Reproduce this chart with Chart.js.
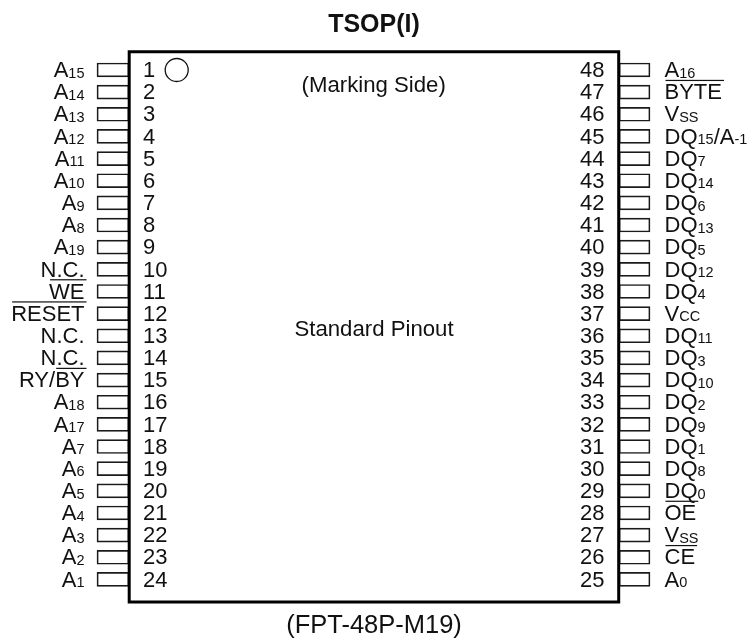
<!DOCTYPE html>
<html>
<head>
<meta charset="utf-8">
<title>TSOP(I)</title>
<script src="https://cdn.jsdelivr.net/npm/chart.js@4"></script>
<style>
  html, body { margin: 0; padding: 0; background: #fff; }
  canvas { display: block; }
</style>
</head>
<body>
<canvas id="pinout" width="751" height="641"></canvas>
<script>
// pin names: _{x} is a subscript, ~{x} an overbar
const leftPinNames = ['A_{15}', 'A_{14}', 'A_{13}', 'A_{12}', 'A_{11}', 'A_{10}', 'A_{9}', 'A_{8}',
  'A_{19}', 'N.C.', '~{WE}', '~{RESET}', 'N.C.', 'N.C.', 'RY/~{BY}', 'A_{18}',
  'A_{17}', 'A_{7}', 'A_{6}', 'A_{5}', 'A_{4}', 'A_{3}', 'A_{2}', 'A_{1}'];
const leftPinNumbers = [1, 2, 3, 4, 5, 6, 7, 8, 9, 10, 11, 12, 13, 14, 15, 16, 17, 18, 19, 20, 21, 22, 23, 24];
const rightPinNames = ['A_{16}', '~{BYTE}', 'V_{SS}', 'DQ_{15}/A_{-1}', 'DQ_{7}', 'DQ_{14}', 'DQ_{6}', 'DQ_{13}',
  'DQ_{5}', 'DQ_{12}', 'DQ_{4}', 'V_{CC}', 'DQ_{11}', 'DQ_{3}', 'DQ_{10}', 'DQ_{2}',
  'DQ_{9}', 'DQ_{1}', 'DQ_{8}', 'DQ_{0}', '~{OE}', 'V_{SS}', '~{CE}', 'A_{0}'];
const rightPinNumbers = [48, 47, 46, 45, 44, 43, 42, 41, 40, 39, 38, 37, 36, 35, 34, 33, 32, 31, 30, 29, 28, 27, 26, 25];

// x scale is canvas-wide, y scale counts pin rows (row 1 is the top pin pair)
const X_MAX = 751;
const ROW_MIN = -2.16;
const ROW_MAX = 26.78;
const BODY = { left: 129.2, right: 618.7, top: 0.174, bottom: 25.02 };
const LEFT_PIN = [97, 129];
const RIGHT_PIN = [619, 650];

const INK = '#111';
const FONT = '"Liberation Sans", Arial, sans-serif';
const MAIN_SIZE = 22;
const SUB_SIZE = 14.5;

function pinBars(names, extent) {
  return names.map((name, i) => ({ x: extent, y: i + 1 }));
}

function parseName(name) {
  const parts = [];
  const re = /_\{([^}]*)\}|~\{([^}]*)\}|([^_~]+)/g;
  let m;
  while ((m = re.exec(name))) {
    if (m[1] !== undefined) parts.push({ text: m[1], sub: true });
    else if (m[2] !== undefined) parts.push({ text: m[2], over: true });
    else parts.push({ text: m[3] });
  }
  return parts;
}

function drawName(ctx, name, x, baseline, align) {
  const parts = parseName(name);
  let total = 0;
  parts.forEach(p => {
    ctx.font = (p.sub ? SUB_SIZE : MAIN_SIZE) + 'px ' + FONT;
    p.width = ctx.measureText(p.text).width;
    total += p.width;
  });
  let cx = align === 'right' ? x - total : x;
  parts.forEach(p => {
    ctx.font = (p.sub ? SUB_SIZE : MAIN_SIZE) + 'px ' + FONT;
    ctx.fillText(p.text, cx, baseline + (p.sub ? 0.5 : 0));
    if (p.over) {
      ctx.fillRect(cx + 1, baseline - 19.5, p.width + 1, 1.2);
    }
    cx += p.width;
  });
}

// pin names, numbers and captions placed through the chart scales
const pinoutText = {
  id: 'pinoutText',
  afterDatasetsDraw(chart) {
    const { ctx, scales: { x, y } } = chart;
    ctx.save();
    ctx.fillStyle = INK;
    ctx.textBaseline = 'alphabetic';
    ctx.textAlign = 'left';
    leftPinNames.forEach((name, i) => {
      const py = y.getPixelForValue(i + 1) + 7.2;
      drawName(ctx, name, x.getPixelForValue(84.5), py, 'right');
      ctx.font = MAIN_SIZE + 'px ' + FONT;
      ctx.fillText(String(leftPinNumbers[i]), x.getPixelForValue(143), py);
    });
    rightPinNames.forEach((name, i) => {
      const py = y.getPixelForValue(i + 1) + 7.2;
      drawName(ctx, name, x.getPixelForValue(664.5), py, 'left');
      ctx.font = MAIN_SIZE + 'px ' + FONT;
      ctx.fillText(String(rightPinNumbers[i]), x.getPixelForValue(580), py);
    });

    ctx.textAlign = 'center';
    ctx.font = 'bold 25px ' + FONT;
    ctx.fillText('TSOP(I)', x.getPixelForValue(374), 32);
    ctx.font = '22.2px ' + FONT;
    ctx.fillText('(Marking Side)', x.getPixelForValue(373.7), y.getPixelForValue(2));
    ctx.fillText('Standard Pinout', x.getPixelForValue(374), y.getPixelForValue(13));
    ctx.font = '25.5px ' + FONT;
    ctx.fillText('(FPT-48P-M19)', x.getPixelForValue(374), 632.5);
    ctx.restore();
  }
};

new Chart(document.getElementById('pinout'), {
  type: 'scatter',
  data: {
    datasets: [
      {
        type: 'line',
        label: 'Package',
        order: 1,
        data: [
          { x: BODY.left, y: BODY.top },
          { x: BODY.right, y: BODY.top },
          { x: BODY.right, y: BODY.bottom },
          { x: BODY.left, y: BODY.bottom },
          { x: BODY.left, y: BODY.top }
        ],
        borderColor: '#000',
        borderWidth: 3,
        borderCapStyle: 'square',
        borderJoinStyle: 'miter',
        pointRadius: 0,
        tension: 0,
        fill: false
      },
      {
        type: 'scatter',
        label: 'Pin 1 mark',
        order: 1,
        data: [{ x: 176.7, y: 1 }],
        pointStyle: 'circle',
        pointRadius: 11.5,
        pointBorderWidth: 1.3,
        pointBorderColor: INK,
        pointBackgroundColor: '#fff'
      },
      {
        type: 'bar',
        label: 'Left pins',
        order: 2,
        indexAxis: 'y',
        grouped: false,
        data: pinBars(leftPinNames, LEFT_PIN),
        barThickness: 14,
        borderWidth: 1.7,
        borderSkipped: false,
        borderColor: '#1a1a1a',
        backgroundColor: '#fff'
      },
      {
        type: 'bar',
        label: 'Right pins',
        order: 2,
        indexAxis: 'y',
        grouped: false,
        data: pinBars(rightPinNames, RIGHT_PIN),
        barThickness: 14,
        borderWidth: 1.7,
        borderSkipped: false,
        borderColor: '#1a1a1a',
        backgroundColor: '#fff'
      }
    ]
  },
  options: {
    responsive: false,
    animation: false,
    devicePixelRatio: 1,
    layout: { padding: 0, autoPadding: false },
    plugins: { legend: { display: false }, tooltip: { enabled: false }, title: { display: false } },
    scales: {
      x: { type: 'linear', display: false, min: 0, max: X_MAX },
      y: { type: 'linear', display: false, offset: false, reverse: true, min: ROW_MIN, max: ROW_MAX }
    }
  },
  plugins: [pinoutText]
});
</script>
</body>
</html>
